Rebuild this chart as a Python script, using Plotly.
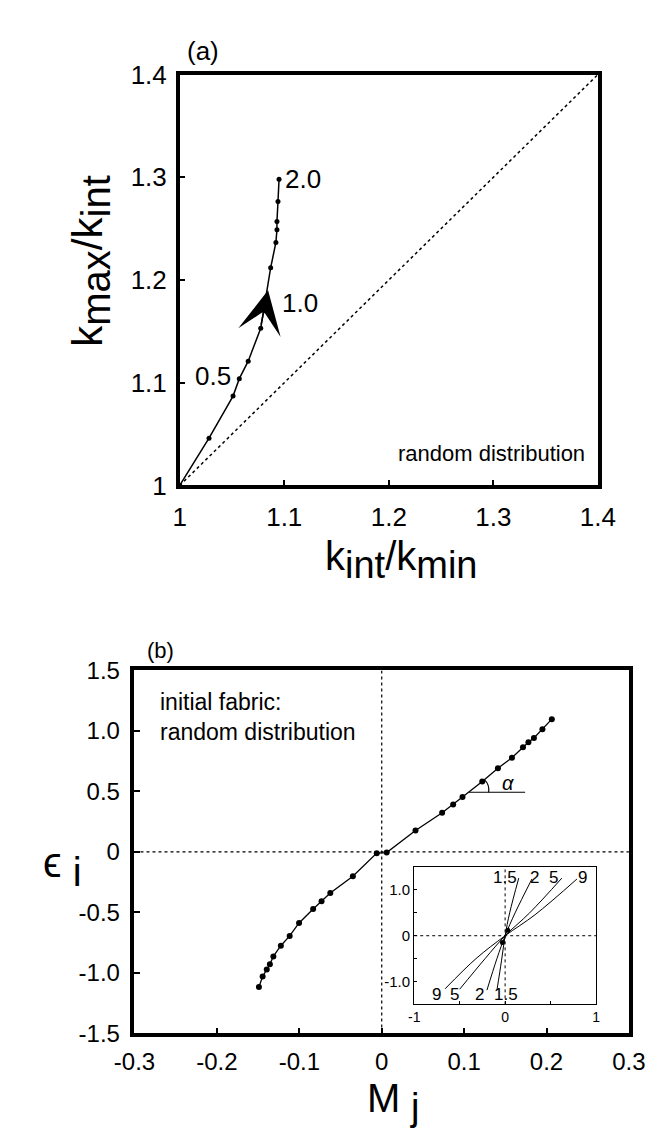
import plotly.graph_objects as go

# ---- panel (a) data ----
a_x = [1.0, 1.028, 1.051, 1.057, 1.0655, 1.0775, 1.087, 1.092, 1.093, 1.093, 1.094, 1.095]
a_y = [1.0, 1.046, 1.087, 1.104, 1.121, 1.153, 1.212, 1.2365, 1.249, 1.257, 1.2765, 1.298]
a_diag = [1.0, 1.4]
a_ticks = [1.0, 1.1, 1.2, 1.3, 1.4]
a_ticktext = ["1", "1.1", "1.2", "1.3", "1.4"]

# ---- panel (b) data ----
b_M = [-0.149, -0.1445, -0.1395, -0.1357, -0.1315, -0.1224, -0.1117, -0.1003, -0.0832,
       -0.073, -0.0624, -0.035, -0.006, 0.006, 0.041, 0.0733, 0.0867, 0.098, 0.122,
       0.141, 0.158, 0.1714, 0.178, 0.1847, 0.195, 0.2064]
b_eps = [-1.116, -1.03, -0.971, -0.928, -0.863, -0.775, -0.694, -0.587, -0.472,
         -0.408, -0.340, -0.20, -0.01, -0.005, 0.177, 0.324, 0.392, 0.453, 0.582,
         0.692, 0.778, 0.866, 0.907, 0.941, 1.014, 1.097]
b_xticks = [-0.3, -0.2, -0.1, 0, 0.1, 0.2, 0.3]
b_xticktext = ["-0.3", "-0.2", "-0.1", "0", "0.1", "0.2", "0.3"]
b_yticks = [-1.5, -1.0, -0.5, 0, 0.5, 1.0, 1.5]
b_yticktext = ["-1.5", "-1.0", "-0.5", "0", "0.5", "1.0", "1.5"]

# ---- inset data ----
ins_labels = ["1.5", "2", "5", "9"]
ins_x = {
    "1.5": [-0.09, -0.04, 0, 0.05, 0.15],
    "2": [-0.2, -0.09, 0, 0.11, 0.295],
    "5": [-0.5, -0.22, 0, 0.27, 0.624],
    "9": [-0.66, -0.32, 0, 0.33, 0.79],
}
ins_y = {
    "1.5": [-1.19, -0.55, 0, 0.5, 1.26],
    "2": [-1.19, -0.5, 0, 0.5, 1.24],
    "5": [-1.17, -0.5, 0, 0.5, 1.26],
    "9": [-1.16, -0.5, 0, 0.46, 1.24],
}
ins_top_lab_x = [0.0, 0.32, 0.53, 0.85]
ins_bot_lab_x = [0.01, -0.28, -0.56, -0.76]
ins_xticks = [-1, -0.5, 0, 0.5, 1]
ins_xticktext = ["-1", "", "0", "", "1"]
ins_yticks = [-1.0, -0.5, 0, 0.5, 1.0]
ins_yticktext = ["-1.0", "", "0", "", "1.0"]
ins_dot_x = [0.03, -0.03]
ins_dot_y = [0.12, -0.15]

FONT = "Liberation Sans, Arial, Helvetica, sans-serif"
W, H = 671, 1134
fig = go.Figure()

# panel (a)
fig.add_trace(go.Scatter(x=a_diag, y=a_diag, mode="lines",
                         line=dict(color="black", width=1.5, dash="dot"),
                         xaxis="x", yaxis="y", showlegend=False))
fig.add_trace(go.Scatter(x=a_x, y=a_y, mode="lines+markers",
                         line=dict(color="black", width=1.5),
                         marker=dict(color="black", size=5),
                         xaxis="x", yaxis="y", showlegend=False))

# panel (b)
fig.add_trace(go.Scatter(x=[-0.3, 0.3], y=[0, 0], mode="lines",
                         line=dict(color="black", width=1.2, dash="dot"),
                         xaxis="x2", yaxis="y2", showlegend=False))
fig.add_trace(go.Scatter(x=[0, 0], y=[-1.5, 1.5], mode="lines",
                         line=dict(color="black", width=1.2, dash="dot"),
                         xaxis="x2", yaxis="y2", showlegend=False))
fig.add_trace(go.Scatter(x=b_M, y=b_eps, mode="lines+markers",
                         line=dict(color="black", width=1.3),
                         marker=dict(color="black", size=6),
                         xaxis="x2", yaxis="y2", showlegend=False))

# inset
fig.add_trace(go.Scatter(x=[-1, 1], y=[0, 0], mode="lines",
                         line=dict(color="black", width=1, dash="dot"),
                         xaxis="x3", yaxis="y3", showlegend=False))
fig.add_trace(go.Scatter(x=[0, 0], y=[-1.5, 1.5], mode="lines",
                         line=dict(color="black", width=1, dash="dot"),
                         xaxis="x3", yaxis="y3", showlegend=False))
for lab in ins_labels:
    fig.add_trace(go.Scatter(x=ins_x[lab], y=ins_y[lab], mode="lines",
                             line=dict(color="black", width=1, shape="spline"),
                             xaxis="x3", yaxis="y3", showlegend=False))
fig.add_trace(go.Scatter(x=ins_dot_x, y=ins_dot_y, mode="markers",
                         marker=dict(color="black", size=5),
                         xaxis="x3", yaxis="y3", showlegend=False))

axis_common = dict(showline=True, linecolor="black", mirror=True, showgrid=False,
                   zeroline=False, ticks="inside", tickcolor="black")

fig.update_layout(
    width=W, height=H,
    margin=dict(l=0, r=0, t=0, b=0),
    paper_bgcolor="white", plot_bgcolor="white",
    font=dict(family=FONT, color="black"),
    xaxis=dict(domain=[0.2385, 0.9001], range=[1, 1.4], tickvals=a_ticks, ticktext=a_ticktext,
               linewidth=3.5, ticklen=6, tickwidth=2, tickfont=dict(size=26),
               ticklabelstandoff=6, anchor="y", **axis_common),
    yaxis=dict(domain=[0.5811, 0.9533], range=[1, 1.4], tickvals=a_ticks, ticktext=a_ticktext,
               linewidth=3.5, ticklen=6, tickwidth=2, tickfont=dict(size=26),
               ticklabelstandoff=4, anchor="x", **axis_common),
    xaxis2=dict(domain=[0.1669, 0.9493], range=[-0.3, 0.3], tickvals=b_xticks, ticktext=b_xticktext,
                linewidth=3.5, ticklen=6, tickwidth=2, tickfont=dict(size=24),
                ticklabelstandoff=4, anchor="y2", **axis_common),
    yaxis2=dict(domain=[0.0847, 0.4136], range=[-1.5, 1.5], tickvals=b_yticks, ticktext=b_yticktext,
                linewidth=3.5, ticklen=6, tickwidth=2, tickfont=dict(size=24),
                ticklabelstandoff=6, anchor="x2", **axis_common),
    xaxis3=dict(domain=[0.6095, 0.8972], range=[-1, 1], tickvals=ins_xticks,
                ticktext=ins_xticktext, linewidth=1.2, ticklen=3, tickwidth=1,
                tickfont=dict(size=14), ticklabelstandoff=0, anchor="y3", **axis_common),
    yaxis3=dict(domain=[0.1111, 0.2354], range=[-1.5, 1.5], tickvals=ins_yticks,
                ticktext=ins_yticktext, linewidth=1.2, ticklen=3, tickwidth=1,
                tickfont=dict(size=15), anchor="x3", **axis_common),
)


def sub(base, s, size):
    return f"{base}<sub><span style='font-size:{size}px'>{s}</span></sub>"


def pann(text, px, py, size, **kw):
    d = dict(text=text, xref="paper", yref="paper", x=px / W, y=1 - py / H,
             xanchor="center", yanchor="middle", showarrow=False, font=dict(size=size))
    d.update(kw)
    return d


ann = []
# panel (a) texts
ann.append(pann("(a)", 185, 29, 26))
ann.append(pann(sub("k", "max", 40) + "/" + sub("k", "int", 40), 66, 244, 42, textangle=-90))
ann.append(pann(sub("k", "int", 38) + "/" + sub("k", "min", 38), 395, 552, 40))
ann.append(dict(text="random distribution", x=1.39, y=1.031, xref="x", yref="y",
                xanchor="right", yanchor="middle", showarrow=False, font=dict(size=22)))
ann.append(dict(text="2.0", x=a_x[-1] + 0.004, y=a_y[-1], xref="x", yref="y",
                xanchor="left", yanchor="middle", showarrow=False, font=dict(size=26)))
ann.append(dict(text="1.0", x=1.096, y=1.178, xref="x", yref="y",
                xanchor="left", yanchor="middle", showarrow=False, font=dict(size=26)))
ann.append(dict(text="0.5", x=1.051, y=1.107, xref="x", yref="y",
                xanchor="right", yanchor="middle", showarrow=False, font=dict(size=26)))
# arrow on the curve
ann.append(dict(text="", x=1.0845, y=1.19, ax=1.0775, ay=1.155, xref="x", yref="y",
                axref="x", ayref="y", showarrow=True, arrowhead=3, arrowsize=4.8,
                arrowwidth=1.5, arrowcolor="black"))

# panel (b) texts
ann.append(pann("(b)", 140, 645, 22))
ann.append(pann("initial fabric:", 137, 697, 23, xanchor="left"))
ann.append(pann("random distribution", 137, 728, 23, xanchor="left"))
ann.append(pann(sub("ϵ", " i", 40), 36, 866, 42))
ann.append(pann(sub("M", " j", 38), 386, 1108, 40))
ann.append(dict(text="<i>α</i>", x=0.153, y=0.57, xref="x2", yref="y2",
                xanchor="center", yanchor="middle", showarrow=False, font=dict(size=20)))

# inset labels
for lab, lx in zip(ins_labels, ins_top_lab_x):
    ann.append(dict(text=lab, x=lx, y=1.28, xref="x3", yref="y3", showarrow=False,
                    xanchor="center", yanchor="middle", font=dict(size=17)))
for lab, lx in zip(ins_labels, ins_bot_lab_x):
    ann.append(dict(text=lab, x=lx, y=-1.29, xref="x3", yref="y3", showarrow=False,
                    xanchor="center", yanchor="middle", font=dict(size=17)))

fig.update_layout(annotations=ann)

# alpha angle marker
fig.add_shape(type="line", x0=0.1057, x1=0.174, y0=0.493, y1=0.493, xref="x2", yref="y2",
              line=dict(color="black", width=1.2))
fig.add_shape(type="path", path="M 0.1297,0.493 Q 0.131,0.555 0.1249,0.595", xref="x2", yref="y2",
              line=dict(color="black", width=1.2))

fig.write_html("out.html")
